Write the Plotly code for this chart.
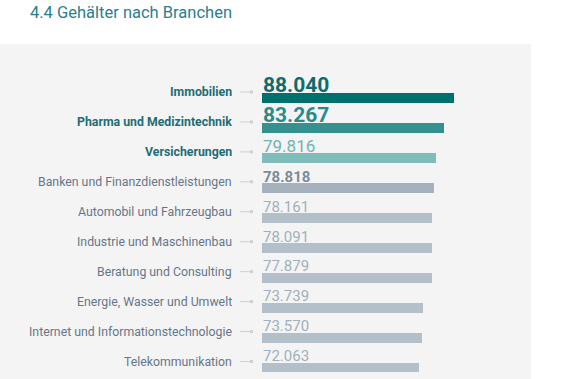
import plotly.graph_objects as go

W, H = 569, 379

categories = ["Immobilien", "Pharma und Medizintechnik", "Versicherungen",
              "Banken und Finanzdienstleistungen", "Automobil und Fahrzeugbau",
              "Industrie und Maschinenbau", "Beratung und Consulting",
              "Energie, Wasser und Umwelt", "Internet und Informationstechnologie",
              "Telekommunikation"]
values = [88040, 83267, 79816, 78818, 78161, 78091, 77879, 73739, 73570, 72063]
value_labels = ["88.040", "83.267", "79.816", "78.818", "78.161", "78.091",
                "77.879", "73.739", "73.570", "72.063"]

bar_colors = ["#00706c", "#35918e", "#80bdba", "#a5b2bd"] + ["#b3c0ca"] * 6
val_colors = ["#0f6b6e", "#2a8a8a", "#6fb3b3", "#7b8c9c"] + ["#a0b0bd"] * 6
val_sizes = [21, 21, 17, 15] + [15] * 6
val_bold = [True, True, False, True] + [False] * 6
cat_colors = ["#1e6d74"] * 3 + ["#66768a"] * 7
cat_bold = [True] * 3 + [False] * 7

FONT = "Roboto, Open Sans, sans-serif"

fig = go.Figure()
fig.add_trace(go.Bar(
    x=values, y=categories, orientation="h",
    marker=dict(color=bar_colors, line=dict(width=0)),
    width=0.33, hoverinfo="skip"
))

# axis geometry
x0px, x1px = 262, 531
units_per_px = 458.5
spacing = 29.94
top_center, bottom_center = 98, 367.5

fig.update_xaxes(domain=[x0px / W, x1px / W], range=[0, (x1px - x0px) * units_per_px],
                 visible=False, showgrid=False, zeroline=False)
fig.update_yaxes(domain=[0, 1], categoryorder="array", categoryarray=categories,
                 range=[9 + (H - bottom_center) / spacing, -top_center / spacing],
                 visible=False, showgrid=False, zeroline=False)

annotations = []
shapes = [dict(type="rect", xref="paper", yref="paper", x0=0, x1=531 / W,
               y0=0, y1=(H - 44) / H, fillcolor="#f4f4f4", line=dict(width=0),
               layer="below")]

for i, (c, lab) in enumerate(zip(categories, value_labels)):
    txt = f"<b>{lab}</b>" if val_bold[i] else lab
    annotations.append(dict(x=0, y=c, xref="x", yref="y", text=txt, showarrow=False,
                            xanchor="left", yanchor="bottom", yshift=5 - 0.22 * val_sizes[i] - 1.5,
                            xshift=-1, font=dict(family=FONT, size=val_sizes[i], color=val_colors[i])))
    ctxt = f"<b>{c}</b>" if cat_bold[i] else c
    annotations.append(dict(x=234 / W, y=c, xref="paper", yref="y", text=ctxt, showarrow=False,
                            xanchor="right", yanchor="middle", yshift=6,
                            font=dict(family=FONT, size=12.3, color=cat_colors[i])))
    shapes.append(dict(type="line", xref="paper", yref="y", x0=240 / W, x1=250 / W,
                       ysizemode="pixel", yanchor=i, y0=6, y1=6,
                       line=dict(color="#cfcfcf", width=1)))
    shapes.append(dict(type="rect", xref="paper", yref="y", x0=250 / W, x1=253 / W,
                       ysizemode="pixel", yanchor=i, y0=4.5, y1=7.5,
                       fillcolor="#cfcfcf", line=dict(width=0)))

annotations.append(dict(x=28 / W, y=(H - 12) / H, xref="paper", yref="paper",
                        text="4.4 Gehälter nach Branchen", showarrow=False,
                        xanchor="left", yanchor="middle",
                        font=dict(family=FONT, size=16.5, color="#2a808c")))

fig.update_layout(width=W, height=H, margin=dict(l=0, r=0, t=0, b=0),
                  paper_bgcolor="white", plot_bgcolor="rgba(0,0,0,0)",
                  showlegend=False, annotations=annotations, shapes=shapes,
                  bargap=0)

fig.write_html("out.html", config={"displayModeBar": False},
               post_script="document.body.style.margin='0';document.body.style.overflow='hidden';")
